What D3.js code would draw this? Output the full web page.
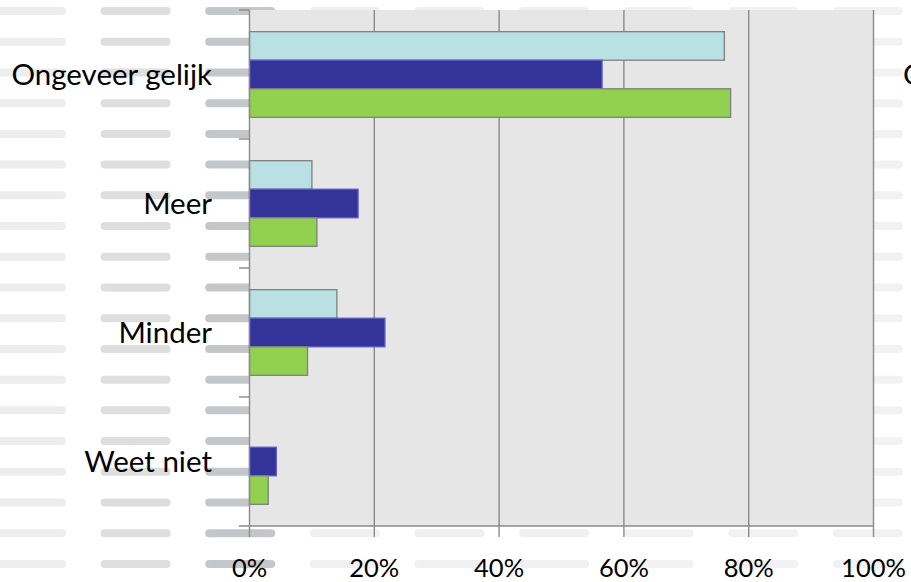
<!DOCTYPE html>
<html><head><meta charset="utf-8">
<script src="https://cdn.jsdelivr.net/npm/d3@7"></script>
<style>html,body{margin:0;padding:0;background:#fff;overflow:hidden}</style>
</head><body>
<svg id="c" width="911" height="582"></svg>
<script>
const categories = ["Ongeveer gelijk", "Meer", "Minder", "Weet niet"];
const seriesNames = ["Serie 1", "Serie 2", "Serie 3"];
const serie1 = [0.761, 0.100, 0.140, 0.0];
const serie2 = [0.565, 0.174, 0.217, 0.043];
const serie3 = [0.771, 0.108, 0.093, 0.030];
const tickValues = [0, 0.2, 0.4, 0.6, 0.8, 1.0];
const tickLabels = ["0%", "20%", "40%", "60%", "80%", "100%"];
const seriesData = [serie1, serie2, serie3];
const fills = ["#b9e0e3", "#333399", "#92d050"];
const strokes = ["#7f7f7f", "#5b5bc6", "#7f7f7f"];

const svg = d3.select("#c");
const FONT = "Lato, 'Open Sans', sans-serif";

// decorative background dashes
const bg = svg.append("g");
const colX = d3.range(9).map(i => -4 + i * 104.6);
const colColor = ["#ededed", "#dedede", "#c4c7c9", "#f0f0f0", "#f0f0f0", "#f0f0f0", "#f2f2f2", "#f2f2f2", "#f2f2f2"];
d3.range(19).forEach(r => {
  colX.forEach((x, i) => {
    bg.append("rect").attr("x", x).attr("y", 11 + r * 30.72 - 4)
      .attr("width", 70).attr("height", 8).attr("rx", 4)
      .attr("fill", colColor[i]);
  });
});

const x = d3.scaleLinear().domain([0, 1]).range([249.5, 873.5]);
const y = d3.scaleBand().domain(categories).range([10, 526]).paddingInner(0.336).paddingOuter(0.168);
const ySub = d3.scaleBand().domain(d3.range(3)).range([0, y.bandwidth()]);

// plot area
svg.append("rect").attr("x", x(0)).attr("y", 10).attr("width", x(1) - x(0)).attr("height", 516)
  .attr("fill", "#e6e6e6");

// gridlines
svg.append("g").selectAll("line").data(tickValues.slice(1)).join("line")
  .attr("x1", d => x(d)).attr("x2", d => x(d)).attr("y1", 10).attr("y2", 537)
  .attr("stroke", "#8a8a8a").attr("stroke-width", 1.4);

// bars
categories.forEach((c, ci) => {
  seriesData.forEach((s, si) => {
    if (s[ci] <= 0) return;
    svg.append("rect")
      .attr("x", x(0)).attr("y", y(c) + ySub(si))
      .attr("width", x(s[ci]) - x(0)).attr("height", ySub.bandwidth())
      .attr("fill", fills[si]).attr("stroke", strokes[si]).attr("stroke-width", 1.3);
  });
});

// axis lines & ticks
const ax = svg.append("g").attr("stroke", "#8a8a8a").attr("stroke-width", 1.4);
ax.append("line").attr("x1", x(0)).attr("x2", x(0)).attr("y1", 10).attr("y2", 537);
ax.append("line").attr("x1", 239).attr("x2", x(1)).attr("y1", 526).attr("y2", 526);
const yTicks = categories.map(c => y(c) - y.step() * y.paddingInner() / 2);
ax.selectAll(".yt").data(yTicks).join("line")
  .attr("x1", 239).attr("x2", x(0)).attr("y1", d => d).attr("y2", d => d);

// category labels
svg.append("g").selectAll("text").data(categories).join("text")
  .attr("x", 212).attr("y", d => y(d) + y.bandwidth() / 2)
  .attr("dy", "0.36em").attr("text-anchor", "end")
  .attr("font-family", FONT).attr("font-size", 29.5).attr("fill", "#000")
  .text(d => d);

// x tick labels
svg.append("g").selectAll("text").data(tickValues).join("text")
  .attr("x", d => x(d)).attr("y", 577).attr("text-anchor", "middle")
  .attr("font-family", FONT).attr("font-size", 25.5).attr("fill", "#000")
  .text((d, i) => tickLabels[i]);

// clipped label of neighbouring chart at right edge (cut off in the reference too)
svg.append("text").attr("x", 903).attr("y", y(categories[0]) + y.bandwidth() / 2)
  .attr("dy", "0.36em").attr("font-family", FONT).attr("font-size", 29.5).text(categories[0]);
</script>
</body></html>
